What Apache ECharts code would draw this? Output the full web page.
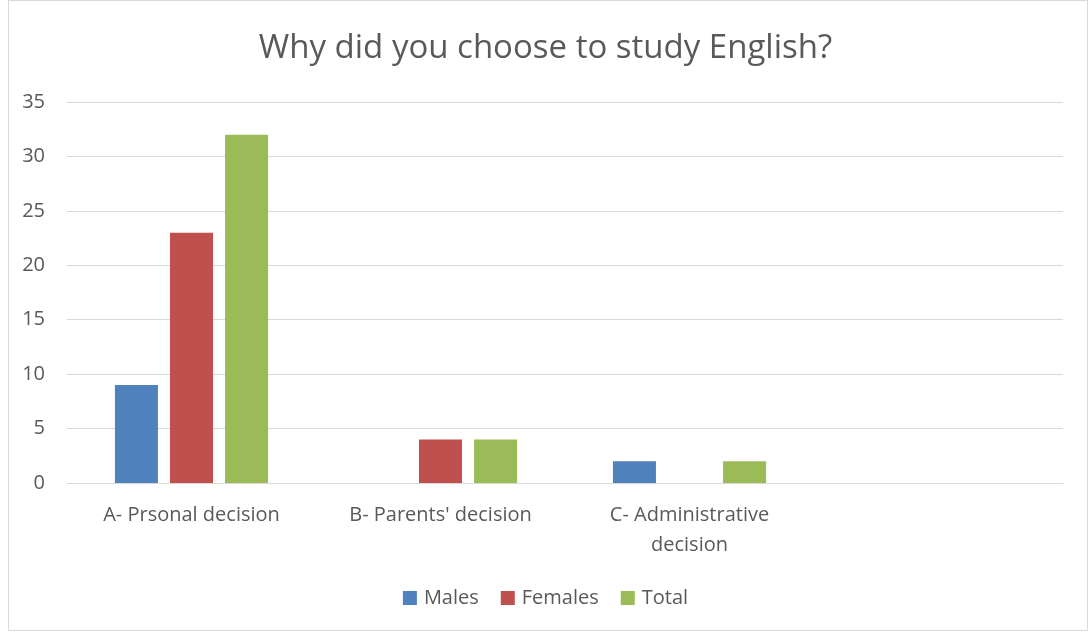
<!DOCTYPE html>
<html>
<head>
<meta charset="utf-8">
<script src="https://cdn.jsdelivr.net/npm/echarts@6/dist/echarts.min.js"></script>
<style>
  html, body { margin: 0; padding: 0; background: #fff; }
  #frame { position: absolute; left: 8px; top: 0px; width: 1080px; height: 631px; border: 1px solid #d9d9d9; box-sizing: border-box; }
  #chart { position: absolute; left: 0; top: 0; width: 1091px; height: 634px; }
</style>
</head>
<body>
<div id="frame"></div>
<div id="chart"></div>
<script>
// Survey answers by reason and gender
const categories = ['A- Prsonal decision', "B- Parents' decision", 'C- Administrative\ndecision', ''];
const males   = [9, null, 2, null];
const females = [23, 4, null, null];
const total   = [32, 4, 2, null];
const yTicks  = { min: 0, max: 35, interval: 5 };

const textColor = '#595959';
const font = 'Open Sans';

const chart = echarts.init(document.getElementById('chart'), null, { renderer: 'canvas' });
chart.setOption({
  animation: false,
  title: {
    text: 'Why did you choose to study English?',
    left: 'center',
    top: 27,
    textStyle: { fontFamily: font, fontSize: 33, fontWeight: 'normal', color: textColor }
  },
  legend: {
    bottom: 21,
    left: 'center',
    itemWidth: 14,
    itemHeight: 14,
    itemGap: 22,
    icon: 'rect',
    textStyle: { fontFamily: font, fontSize: 20, color: textColor, padding: [0, 0, 0, 2] },
    data: ['Males', 'Females', 'Total']
  },
  grid: { left: 67, right: 28, top: 102, bottom: 151, containLabel: false },
  xAxis: {
    type: 'category',
    data: categories,
    axisLine: { lineStyle: { color: '#d9d9d9', width: 1 } },
    axisTick: { show: false },
    axisLabel: { fontFamily: font, fontSize: 20, color: textColor, margin: 17, lineHeight: 30, interval: 0 }
  },
  yAxis: {
    type: 'value',
    min: yTicks.min,
    max: yTicks.max,
    interval: yTicks.interval,
    axisLine: { show: false },
    axisTick: { show: false },
    axisLabel: { fontFamily: font, fontSize: 20, color: textColor, margin: 22 },
    splitLine: { lineStyle: { color: '#d9d9d9', width: 1 } }
  },
  series: [
    { name: 'Males', type: 'bar', data: males, itemStyle: { color: '#4f81bd' }, barGap: '28%', barCategoryGap: '38.5%' },
    { name: 'Females', type: 'bar', data: females, itemStyle: { color: '#c0504d' } },
    { name: 'Total', type: 'bar', data: total, itemStyle: { color: '#9bbb59' } }
  ]
});
</script>
</body>
</html>
